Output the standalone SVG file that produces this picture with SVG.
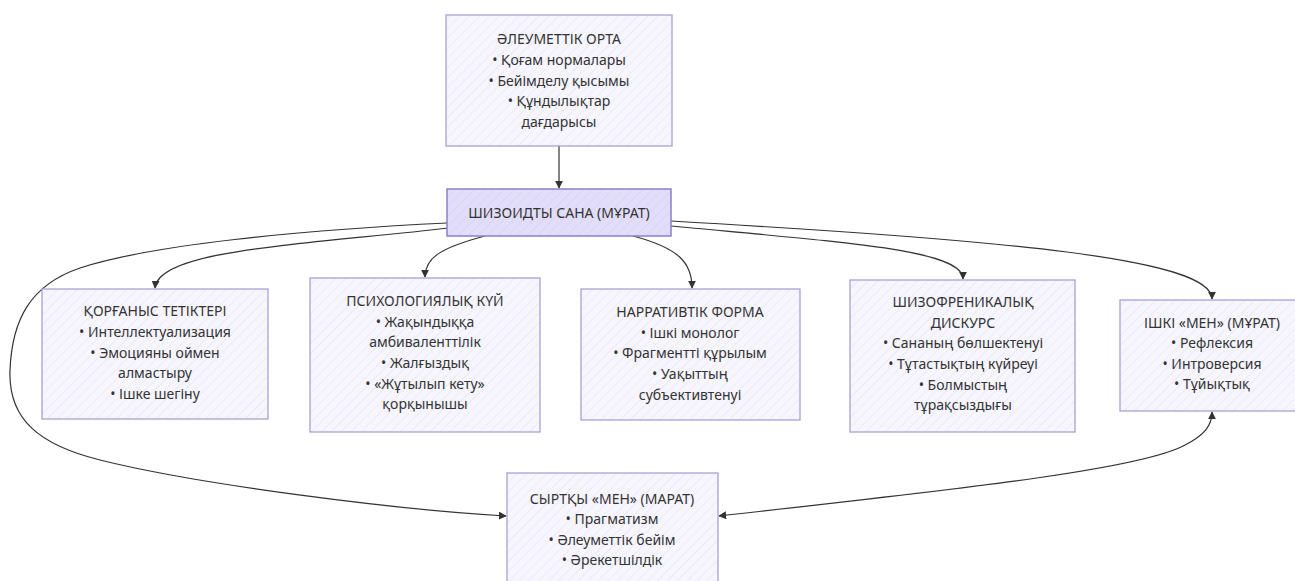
<svg xmlns="http://www.w3.org/2000/svg" width="1295" height="581" viewBox="0 0 1295 581">
<style>
  .node rect { fill: url(#hatch); stroke: #a8a2d4; stroke-width: 1.3; }
  .node.main rect { fill: url(#hatchDark); stroke: #8a81c9; stroke-width: 1.5; }
  .node text { font-family: "Noto Sans", "Open Sans", sans-serif; font-size: 14px; fill: #333; text-anchor: middle; }
  .edges path { fill: none; stroke: #333; stroke-width: 1.2; }
</style>
<defs>
  <pattern id="hatch" patternUnits="userSpaceOnUse" width="7" height="7" patternTransform="rotate(45)">
    <rect width="7" height="7" fill="#f7f6fe"/>
    <line x1="0" y1="0" x2="0" y2="7" stroke="#e6e3f6" stroke-width="1.2"/>
  </pattern>
  <pattern id="hatchDark" patternUnits="userSpaceOnUse" width="7" height="7" patternTransform="rotate(45)">
    <rect width="7" height="7" fill="#e2defa"/>
    <line x1="0" y1="0" x2="0" y2="7" stroke="#d3cdf4" stroke-width="1.2"/>
  </pattern>
  <marker id="arrow" viewBox="0 0 10 10" refX="9" refY="5" markerWidth="8" markerHeight="8" markerUnits="userSpaceOnUse" orient="auto-start-reverse">
    <path d="M0,0 L10,5 L0,10 z" fill="#333"/>
  </marker>
</defs>
<rect width="1295" height="581" fill="#ffffff"/>

<g class="edges">
  <path d="M559,146 L559,188" marker-end="url(#arrow)"/>
  <path d="M449,228 C300,245 158,250 155,288" marker-end="url(#arrow)"/>
  <path d="M485,236 C440,248 425,258 425,277" marker-end="url(#arrow)"/>
  <path d="M633,236 C678,248 692,262 692,288" marker-end="url(#arrow)"/>
  <path d="M671,226 C850,243 963,250 963,279" marker-end="url(#arrow)" stroke-width="1.6"/>
  <path d="M671,221 C1000,240 1212,258 1212,299" marker-end="url(#arrow)"/>
  <path d="M447,223 C300,230 150,245 80,268 C30,285 12,320 10,370 C8,420 40,445 100,460 C200,485 400,510 506,516" marker-end="url(#arrow)"/>
  <path d="M719,516 C950,490 1140,470 1185,445 C1205,435 1212,425 1212,412" marker-start="url(#arrow)" marker-end="url(#arrow)"/>
</g>

<g id="node-social" class="node">
  <rect x="446" y="15" width="226" height="131"/>
  <text x="559" y="44">ӘЛЕУМЕТТІК ОРТА</text>
  <text x="559" y="65">• Қоғам нормалары</text>
  <text x="559" y="86">• Бейімделу қысымы</text>
  <text x="559" y="106">• Құндылықтар</text>
  <text x="559" y="127">дағдарысы</text>
</g>

<g id="node-schizoid" class="node main">
  <rect x="447" y="189" width="224" height="47"/>
  <text x="559" y="218">ШИЗОИДТЫ САНА (МҰРАТ)</text>
</g>

<g id="node-defense" class="node">
  <rect x="42" y="289" width="226" height="130"/>
  <text x="155" y="316">ҚОРҒАНЫС ТЕТІКТЕРІ</text>
  <text x="155" y="337">• Интеллектуализация</text>
  <text x="155" y="358">• Эмоцияны оймен</text>
  <text x="155" y="378">алмастыру</text>
  <text x="155" y="399">• Ішке шегіну</text>
</g>

<g id="node-psych" class="node">
  <rect x="310" y="278" width="230" height="154"/>
  <text x="425" y="306">ПСИХОЛОГИЯЛЫҚ КҮЙ</text>
  <text x="425" y="327">• Жақындыққа</text>
  <text x="425" y="347">амбиваленттілік</text>
  <text x="425" y="368">• Жалғыздық</text>
  <text x="425" y="389">• «Жұтылып кету»</text>
  <text x="425" y="409">қорқынышы</text>
</g>

<g id="node-narrative" class="node">
  <rect x="581" y="289" width="219" height="131"/>
  <text x="690" y="317">НАРРАТИВТІК ФОРМА</text>
  <text x="690" y="338">• Ішкі монолог</text>
  <text x="690" y="358">• Фрагментті құрылым</text>
  <text x="690" y="379">• Уақыттың</text>
  <text x="690" y="400">субъективтенуі</text>
</g>

<g id="node-discourse" class="node">
  <rect x="850" y="280" width="225" height="152"/>
  <text x="963" y="307">ШИЗОФРЕНИКАЛЫҚ</text>
  <text x="963" y="328">ДИСКУРС</text>
  <text x="963" y="348">• Сананың бөлшектенуі</text>
  <text x="963" y="369">• Тұтастықтың күйреуі</text>
  <text x="963" y="390">• Болмыстың</text>
  <text x="963" y="410">тұрақсыздығы</text>
</g>

<g id="node-inner" class="node">
  <rect x="1120" y="300" width="184" height="111"/>
  <text x="1212" y="328">ІШКІ «МЕН» (МҰРАТ)</text>
  <text x="1212" y="348">• Рефлексия</text>
  <text x="1212" y="369">• Интроверсия</text>
  <text x="1212" y="389">• Тұйықтық</text>
</g>

<g id="node-outer" class="node">
  <rect x="507" y="473" width="211" height="112"/>
  <text x="612" y="504">СЫРТҚЫ «МЕН» (МАРАТ)</text>
  <text x="612" y="524">• Прагматизм</text>
  <text x="612" y="545">• Әлеуметтік бейім</text>
  <text x="612" y="565">• Әрекетшілдік</text>
</g>
</svg>
